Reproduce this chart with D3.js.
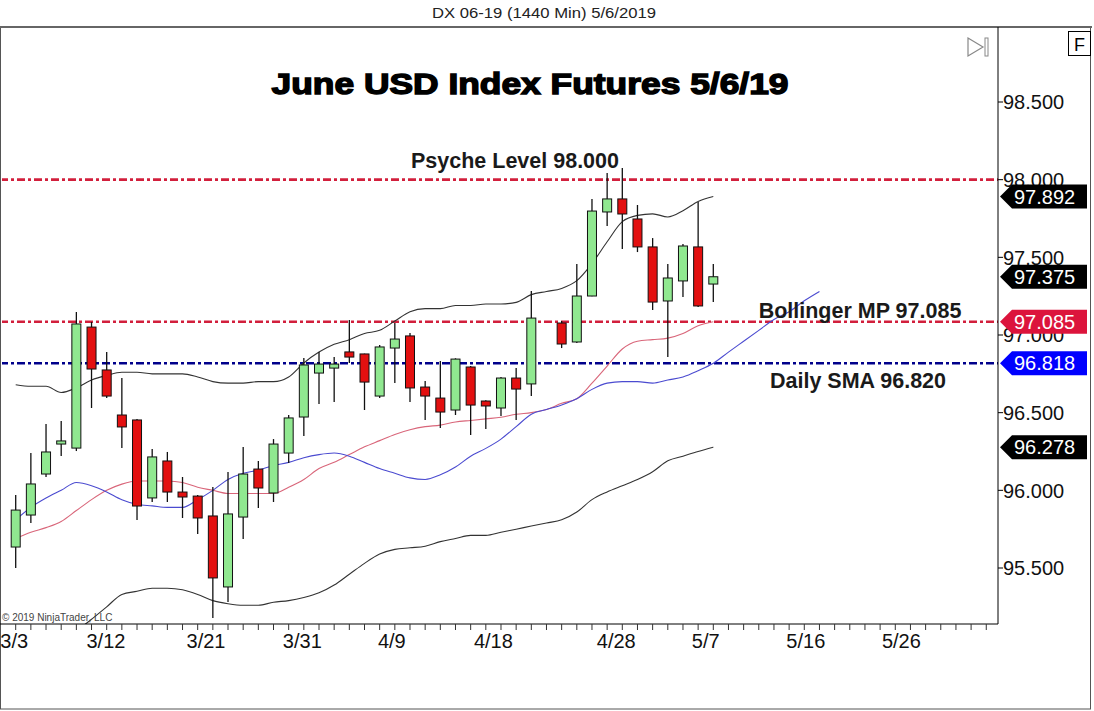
<!DOCTYPE html>
<html>
<head>
<meta charset="utf-8">
<script src="https://cdn.jsdelivr.net/npm/d3@7"></script>
<style>
  body { margin: 0; background: #fff; }
  svg { display: block; font-family: "Liberation Sans", Arial, sans-serif; }
</style>
</head>
<body>
<div id="chart"></div>
<script>
// Daily bars, index 0 = first bar on the chart (index 35 has no bar)
const opens  = [95.635, 95.841, 96.105, 96.298, 96.272, 97.051, 96.775, 96.485, 96.453, 95.951,
                96.189, 95.989, 95.963, 95.835, 95.378, 95.828, 96.137, 95.983, 96.240, 96.472,
                96.755, 96.787, 96.891, 96.878, 96.607, 96.916, 96.994, 96.665, 96.594, 96.517,
                96.794, 96.575, 96.530, 96.723, 96.685, null,   97.077, 96.955, 97.251, 97.792,
                97.876, 97.747, 97.567, 97.219, 97.348, 97.567, 97.328];
const highs  = [95.970, 96.240, 96.427, 96.446, 97.148, 97.084, 96.891, 96.723, 96.460, 96.266,
                96.247, 96.086, 95.970, 96.021, 96.118, 96.279, 96.189, 96.330, 96.485, 96.852,
                96.891, 96.858, 97.097, 96.880, 96.936, 97.077, 97.013, 96.704, 96.833, 96.850,
                96.800, 96.580, 96.730, 96.787, 97.283, null,   97.090, 97.457, 97.876, 98.043,
                98.075, 97.837, 97.624, 97.457, 97.586, 97.856, 97.457];
const lows   = [95.500, 95.790, 96.086, 96.221, 96.253, 96.530, 96.594, 96.272, 95.809, 95.925,
                95.925, 95.822, 95.719, 95.178, 95.281, 95.687, 95.886, 95.925, 96.176, 96.350,
                96.556, 96.569, 96.820, 96.517, 96.594, 96.691, 96.569, 96.453, 96.401, 96.485,
                96.356, 96.395, 96.479, 96.453, 96.607, null,   96.916, 96.948, 97.250, 97.702,
                97.554, 97.534, 97.161, 96.858, 97.245, 97.180, 97.212];
const closes = [95.873, 96.041, 96.247, 96.318, 97.071, 96.781, 96.607, 96.408, 95.899, 96.215,
                95.989, 95.957, 95.822, 95.436, 95.848, 96.105, 96.015, 96.298, 96.466, 96.807,
                96.813, 96.813, 96.858, 96.697, 96.923, 96.974, 96.659, 96.607, 96.504, 96.845,
                96.549, 96.543, 96.723, 96.652, 97.109, null,   96.942, 97.251, 97.798, 97.876,
                97.779, 97.567, 97.212, 97.367, 97.573, 97.187, 97.375];

// Bollinger bands
const bbUpper = [96.68, 96.67, 96.67, 96.63, 96.66, 96.71, 96.74, 96.76, 96.76, 96.75,
                 96.75, 96.75, 96.73, 96.70, 96.69, 96.69, 96.70, 96.70, 96.73, 96.82,
                 96.89, 96.94, 96.97, 97.01, 97.03, 97.09, 97.15, 97.17, 97.17, 97.19,
                 97.19, 97.20, 97.20, 97.21, 97.26, 97.28, 97.30, 97.35, 97.46, 97.60,
                 97.73, 97.77, 97.78, 97.76, 97.80, 97.86, 97.892];
const bbMid   = [95.69, 95.73, 95.76, 95.80, 95.87, 95.94, 96.00, 96.04, 96.06, 96.06,
                 96.06, 96.05, 96.02, 96.00, 95.98, 95.98, 95.98, 95.98, 96.02, 96.07,
                 96.14, 96.18, 96.23, 96.28, 96.32, 96.36, 96.39, 96.41, 96.42, 96.44,
                 96.45, 96.46, 96.47, 96.49, 96.50, 96.52, 96.56, 96.59, 96.69, 96.80,
                 96.91, 96.96, 96.97, 96.98, 97.01, 97.06, 97.085];
const bbLower = [94.71, 94.78, 94.86, 94.99, 95.09, 95.17, 95.25, 95.33, 95.35, 95.37,
                 95.37, 95.36, 95.33, 95.29, 95.27, 95.26, 95.26, 95.28, 95.29, 95.31,
                 95.34, 95.39, 95.46, 95.53, 95.59, 95.62, 95.63, 95.64, 95.67, 95.69,
                 95.71, 95.71, 95.73, 95.75, 95.77, 95.79, 95.81, 95.86, 95.94, 95.99,
                 96.03, 96.07, 96.12, 96.19, 96.22, 96.25, 96.278];
// displaced daily SMA (runs past the last bar)
const sma     = [95.81, 95.89, 95.95, 96.00, 96.05, 96.03, 95.99, 95.94, 95.91, 95.90,
                 95.89, 95.89, 95.94, 96.00, 96.07, 96.11, 96.13, 96.16, 96.18, 96.21,
                 96.23, 96.24, 96.22, 96.18, 96.14, 96.11, 96.08, 96.07, 96.10, 96.15,
                 96.22, 96.27, 96.33, 96.41, 96.49, 96.52, 96.55, 96.59, 96.65, 96.69,
                 96.70, 96.70, 96.69, 96.71, 96.73, 96.77, 96.818, 96.89, 96.96, 97.03,
                 97.10, 97.15, 97.22, 97.28];

const priceTicks = [98.5, 98.0, 97.5, 97.0, 96.5, 96.0, 95.5];
const dateLabels = ['3/3', '3/12', '3/21', '3/31', '4/9', '4/18', '4/28', '5/7', '5/16', '5/26'];
const dateLabelAt = [-0.1, 5.95, 12.55, 18.9, 24.8, 31.5, 39.6, 45.5, 52.1, 58.4]; // bar index units
const levels = [
    { value: 98.000, color: '#d21f3c' },
    { value: 97.085, color: '#d21f3c' },
    { value: 96.818, color: '#00008b' }
];
const tags = [
    { value: 97.892, color: '#000000' },
    { value: 97.375, color: '#000000' },
    { value: 97.085, color: '#dc143c' },
    { value: 96.818, color: '#0000ff' },
    { value: 96.278, color: '#000000' }
];

const width = 1094, height = 711;
const plot = { left: 2, right: 998, top: 27, bottom: 624 };

const svg = d3.select('#chart').append('svg')
    .attr('width', width)
    .attr('height', height);

const x = d3.scaleLinear().domain([0, 46]).range([15.7, 713.3]);
const y = d3.scaleLinear().domain([95.5, 98.5]).range([568, 102]);

// frame
svg.append('rect').attr('x', 0.5).attr('y', 27).attr('width', 1090).attr('height', 682)
    .attr('fill', '#fff').attr('stroke', '#555').attr('stroke-width', 1);
svg.append('line').attr('x1', 0).attr('x2', 1092).attr('y1', 27).attr('y2', 27)
    .attr('stroke', '#666').attr('stroke-width', 2);

svg.append('text')
    .attr('x', 544).attr('y', 18)
    .attr('text-anchor', 'middle')
    .attr('textLength', 224).attr('lengthAdjust', 'spacingAndGlyphs')
    .style('font-size', '14px').style('fill', '#222')
    .text('DX 06-19 (1440 Min)  5/6/2019');

svg.append('defs').append('clipPath').attr('id', 'clip')
    .append('rect')
    .attr('x', plot.left).attr('y', plot.top)
    .attr('width', plot.right - plot.left).attr('height', plot.bottom - plot.top);

const g = svg.append('g').attr('clip-path', 'url(#clip)');

// axis lines
svg.append('line').attr('x1', plot.right).attr('x2', plot.right)
    .attr('y1', plot.top).attr('y2', plot.bottom).attr('stroke', '#000');
svg.append('line').attr('x1', 0).attr('x2', plot.right)
    .attr('y1', plot.bottom).attr('y2', plot.bottom).attr('stroke', '#000');

// horizontal levels
levels.forEach(l => {
    g.append('line')
        .attr('x1', 0).attr('x2', plot.right)
        .attr('y1', y(l.value)).attr('y2', y(l.value))
        .attr('stroke', l.color).attr('stroke-width', 2.6)
        .attr('stroke-dasharray', '8,3,3,3');
});

// indicator lines
const line = d3.line().x((d, i) => x(i)).y(d => y(d)).curve(d3.curveMonotoneX);
g.append('path').attr('d', line(bbUpper)).attr('fill', 'none').attr('stroke', '#333').attr('stroke-width', 1.1);
g.append('path').attr('d', line(bbLower)).attr('fill', 'none').attr('stroke', '#333').attr('stroke-width', 1.1);
g.append('path').attr('d', line(bbMid)).attr('fill', 'none').attr('stroke', '#d9667a').attr('stroke-width', 1.1);
g.append('path').attr('d', line(sma)).attr('fill', 'none').attr('stroke', '#4b4bd0').attr('stroke-width', 1.1);

// candles
const bars = d3.range(opens.length).filter(i => opens[i] !== null);
const bodyW = 9;
bars.forEach(i => {
    const up = closes[i] >= opens[i];
    g.append('line')
        .attr('x1', x(i)).attr('x2', x(i))
        .attr('y1', y(highs[i])).attr('y2', y(lows[i]))
        .attr('stroke', '#111').attr('stroke-width', 1.3);
    const top = y(Math.max(opens[i], closes[i]));
    const bot = y(Math.min(opens[i], closes[i]));
    g.append('rect')
        .attr('x', x(i) - bodyW / 2).attr('y', top)
        .attr('width', bodyW).attr('height', Math.max(bot - top, 1.5))
        .attr('fill', up ? '#90e890' : '#e31010')
        .attr('stroke', '#111').attr('stroke-width', 1);
});

// annotations
const ann = [
    { text: 'Psyche Level 98.000', cx: 515, cy: 168 },
    { text: 'Bollinger MP 97.085', cx: 860, cy: 318 },
    { text: 'Daily SMA 96.820', cx: 858, cy: 388 }
];
ann.forEach(a => {
    svg.append('text')
        .attr('x', a.cx).attr('y', a.cy)
        .attr('text-anchor', 'middle')
        .style('font-size', '21.5px').style('font-weight', 'bold').style('fill', '#1a1a1a')
        .text(a.text);
});

svg.append('text')
    .attr('x', 530).attr('y', 94)
    .attr('text-anchor', 'middle')
    .attr('textLength', 517).attr('lengthAdjust', 'spacingAndGlyphs')
    .style('font-size', '30px').style('font-weight', 'bold')
    .style('stroke', '#000').style('stroke-width', 1.4).style('fill', '#000')
    .text('June USD Index Futures 5/6/19');

// price axis
priceTicks.forEach(p => {
    svg.append('line').attr('x1', plot.right).attr('x2', plot.right + 5)
        .attr('y1', y(p)).attr('y2', y(p)).attr('stroke', '#000');
    svg.append('text')
        .attr('x', plot.right + 5).attr('y', y(p)).attr('dy', '0.36em')
        .style('font-size', '20px').style('fill', '#111')
        .text(d3.format('.3f')(p));
});

// price tags
tags.forEach(t => {
    const ty = y(t.value);
    const pts = [[1000, ty], [1012, ty - 12], [1087, ty - 12], [1087, ty + 12], [1012, ty + 12]];
    svg.append('path').attr('d', d3.line()(pts) + 'Z').attr('fill', t.color);
    svg.append('text')
        .attr('x', 1014).attr('y', ty).attr('dy', '0.36em')
        .style('font-size', '20px').style('fill', '#fff')
        .text(d3.format('.3f')(t.value));
});

// date axis
d3.range(0, 65).forEach(i => {
    svg.append('line').attr('x1', x(i)).attr('x2', x(i))
        .attr('y1', plot.bottom).attr('y2', plot.bottom + 6).attr('stroke', '#333');
});
dateLabels.forEach((d, k) => {
    svg.append('text')
        .attr('x', x(dateLabelAt[k])).attr('y', 648)
        .attr('text-anchor', 'middle')
        .style('font-size', '20px').style('fill', '#111')
        .text(d);
});

svg.append('text')
    .attr('x', 2).attr('y', 621)
    .style('font-size', '10px').style('fill', '#444')
    .text('\u00a9 2019 NinjaTrader, LLC');

// top-right controls
svg.append('path').attr('d', 'M968,38 L983,47 L968,56 Z')
    .attr('fill', 'none').attr('stroke', '#888').attr('stroke-width', 1.2);
svg.append('rect').attr('x', 985).attr('y', 38).attr('width', 3).attr('height', 18)
    .attr('fill', 'none').attr('stroke', '#888');
svg.append('rect').attr('x', 1068.5).attr('y', 31.5).attr('width', 22).attr('height', 24)
    .attr('fill', '#fff').attr('stroke', '#000');
svg.append('text').attr('x', 1079.5).attr('y', 51).attr('text-anchor', 'middle')
    .style('font-size', '18px').style('fill', '#000').text('F');
</script>
</body>
</html>
